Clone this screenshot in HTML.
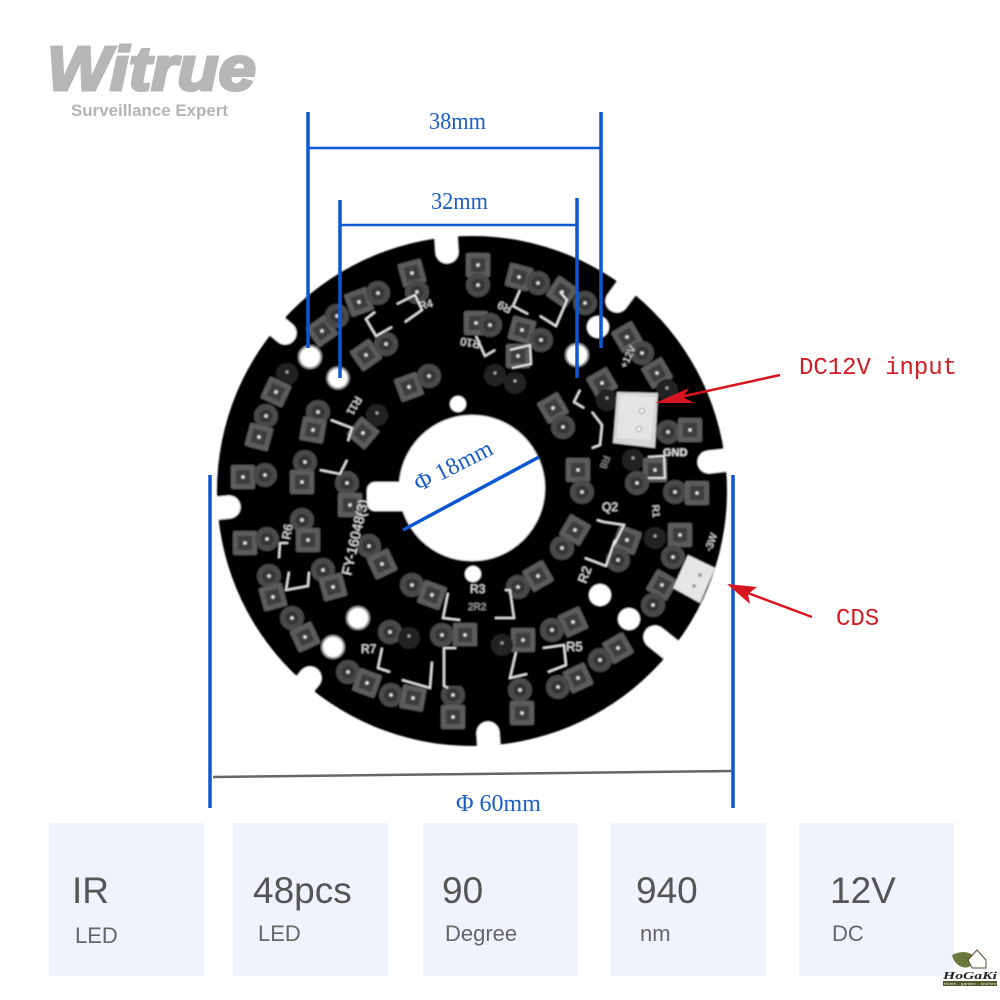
<!DOCTYPE html>
<html><head><meta charset="utf-8"><style>
html,body{margin:0;padding:0;background:#fff}
svg{display:block}
text{font-family:"Liberation Sans",sans-serif}
.d{font-family:"Liberation Serif",serif;fill:#1a5fc8;font-size:24px}
.m{font-family:"Liberation Mono",monospace;fill:#d01c24;font-size:24px}
.s{fill:#e8e8e8;font-size:11px}
.t{fill:#555;font-size:37px}
.l{fill:#666;font-size:22px}
.c{fill:none;stroke:#eee;stroke-width:1.8}
</style></head><body>
<svg width="1000" height="1000" viewBox="0 0 1000 1000" xmlns="http://www.w3.org/2000/svg">
<defs>
<filter id="b" x="-10%" y="-10%" width="120%" height="120%"><feGaussianBlur stdDeviation="0.9"/></filter>
<g id="s"><rect x="-12" y="-12" width="24" height="24" rx="2" fill="#5c5c5c"/><rect x="-7" y="-7" width="14" height="14" fill="#3e3e3e"/><circle r="1.8" fill="#ddd"/></g>
<g id="o"><circle r="12" fill="#484848"/><circle r="6.5" fill="#343434"/><circle r="1.8" fill="#ddd"/></g>
<g id="q"><circle r="11" fill="#222"/><circle cy="-2" r="1.5" fill="#aaa"/></g>
</defs>
<rect width="1000" height="1000" fill="#fff"/>
<text x="47" y="90" font-size="62" font-weight="700" font-style="italic" fill="#b6b6b6" stroke="#b6b6b6" stroke-width="3" textLength="209" lengthAdjust="spacingAndGlyphs">Witrue</text>
<text x="71" y="116" font-size="16.5" font-weight="700" fill="#b4b4b4" textLength="157" lengthAdjust="spacingAndGlyphs">Surveillance Expert</text>

<g filter="url(#b)">
<circle cx="472" cy="491" r="255" fill="#040404"/>
<g stroke="#fff" stroke-width="23" stroke-linecap="round">
<line x1="285" y1="333" x2="260" y2="312"/>
<line x1="447" y1="252" x2="445" y2="222"/>
<line x1="617" y1="301" x2="636" y2="275"/>
<line x1="709" y1="462" x2="745" y2="458"/>
<line x1="229" y1="507" x2="198" y2="510"/>
<line x1="310" y1="678" x2="290" y2="702"/>
<line x1="488" y1="733" x2="490" y2="762"/>
<line x1="655" y1="637" x2="680" y2="657"/>
</g>
<circle cx="472" cy="488" r="73" fill="#fff"/>
<rect x="367" y="482" width="50" height="29" rx="8" fill="#fff"/>
<g fill="#fff" stroke="#999" stroke-width="2">
<circle cx="310" cy="357" r="11"/><circle cx="338" cy="378" r="10.5"/>
<circle cx="598" cy="327" r="11" stroke="none"/><circle cx="577" cy="355" r="11"/>
<circle cx="358" cy="618" r="11"/><circle cx="333" cy="647" r="11"/>
<circle cx="600" cy="595" r="11" stroke="none"/><circle cx="629" cy="619" r="11" stroke="none"/>
</g>
<circle cx="458" cy="404" r="8" fill="#fff"/><circle cx="473" cy="574" r="8" fill="#fff"/>

<use href="#s" transform="translate(412 273) rotate(-15)"/><use href="#o" x="417" y="292"/>
<use href="#s" transform="translate(359 302) rotate(-20)"/><use href="#o" x="378" y="293"/>
<use href="#s" transform="translate(322 331) rotate(-35)"/><use href="#o" x="337" y="316"/>
<use href="#s" transform="translate(366 355) rotate(-35)"/><use href="#o" x="386" y="344"/>
<use href="#s" transform="translate(409 387) rotate(-20)"/><use href="#o" x="429" y="376"/>
<use href="#q" x="287" y="374"/><use href="#s" transform="translate(276 392) rotate(25)"/>
<use href="#o" x="266" y="416"/><use href="#s" transform="translate(259 437) rotate(15)"/>
<use href="#o" x="318" y="412"/><use href="#s" transform="translate(313 430) rotate(10)"/>
<use href="#s" transform="translate(363 433) rotate(40)"/><use href="#q" x="377" y="415"/>
<use href="#o" x="305" y="462"/><use href="#s" x="302" y="482"/>
<use href="#s" x="243" y="477"/><use href="#o" x="265" y="475"/>
<use href="#o" x="347" y="483"/><use href="#s" x="350" y="505"/>
<use href="#s" x="478" y="265"/><use href="#o" x="478" y="285"/>
<use href="#s" x="476" y="323"/><use href="#o" x="490" y="325"/>
<use href="#s" transform="translate(519 277) rotate(15)"/><use href="#o" x="538" y="283"/>
<use href="#s" transform="translate(562 292) rotate(35)"/><use href="#o" x="585" y="303"/>
<use href="#s" transform="translate(522 330) rotate(15)"/><use href="#o" x="541" y="340"/>
<use href="#s" x="518" y="356"/><use href="#q" x="515" y="383"/><use href="#q" x="495" y="375"/>
<use href="#s" transform="translate(627 337) rotate(-30)"/><use href="#o" x="642" y="353"/>
<use href="#s" transform="translate(657 373) rotate(-30)"/><use href="#q" x="667" y="390"/>
<use href="#s" transform="translate(602 383) rotate(-30)"/><use href="#q" x="607" y="400"/>
<use href="#s" transform="translate(553 408) rotate(-30)"/><use href="#o" x="563" y="427"/>
<use href="#o" x="668" y="432"/><use href="#s" x="690" y="430"/>
<use href="#s" x="578" y="470"/><use href="#o" x="582" y="492"/>
<use href="#q" x="633" y="460"/><use href="#s" x="655" y="470"/>
<use href="#o" x="637" y="483"/><use href="#o" x="675" y="492"/><use href="#s" x="697" y="493"/>
<use href="#s" transform="translate(245 543)"/><use href="#o" x="267" y="539"/>
<use href="#o" x="302" y="520"/><use href="#s" x="308" y="540"/>
<use href="#o" x="269" y="576"/><use href="#s" transform="translate(273 597) rotate(-15)"/>
<use href="#o" x="323" y="570"/><use href="#s" transform="translate(333 587) rotate(-15)"/>
<use href="#o" x="292" y="618"/><use href="#s" transform="translate(305 637) rotate(-25)"/>
<use href="#o" x="369" y="546"/><use href="#s" transform="translate(382 564) rotate(-25)"/>
<use href="#o" x="412" y="585"/><use href="#s" transform="translate(432 595) rotate(20)"/>
<use href="#o" x="390" y="632"/><use href="#q" x="409" y="638"/>
<use href="#o" x="442" y="635"/><use href="#s" x="465" y="635"/>
<use href="#o" x="348" y="672"/><use href="#s" transform="translate(367 683) rotate(20)"/>
<use href="#o" x="391" y="695"/><use href="#s" transform="translate(413 698) rotate(10)"/>
<use href="#o" x="453" y="695"/><use href="#s" x="453" y="717"/>
<use href="#o" x="562" y="548"/><use href="#s" transform="translate(575 530) rotate(30)"/>
<use href="#s" transform="translate(627 540) rotate(20)"/><use href="#o" x="618" y="560"/>
<use href="#q" x="655" y="538"/><use href="#s" x="680" y="535"/><use href="#o" x="673" y="557"/>
<use href="#s" transform="translate(662 585) rotate(30)"/><use href="#o" x="653" y="605"/>
<use href="#o" x="518" y="587"/><use href="#s" transform="translate(538 576) rotate(-30)"/>
<use href="#s" transform="translate(573 622) rotate(-25)"/><use href="#o" x="552" y="630"/>
<use href="#s" x="523" y="640"/><use href="#q" x="502" y="645"/>
<use href="#s" transform="translate(618 648) rotate(-30)"/><use href="#o" x="600" y="660"/>
<use href="#s" transform="translate(578 678) rotate(-25)"/><use href="#o" x="558" y="687"/>
<use href="#o" x="520" y="690"/><use href="#s" x="522" y="713"/>

<rect x="446" y="646" width="36" height="40" fill="#000"/>
<polyline class="c" points="448,688 444,686 444,648 456,648"/>

<polyline class="c" points="375,312 366,319 376,336 392,327"/>
<polyline class="c" points="397,304 415,295 422,310 405,322"/>
<polyline class="c" points="520,290 513,306 528,314"/>
<polyline class="c" points="560,292 567,300 556,326 540,316"/>
<polyline class="c" points="476,336 485,356 495,350"/>
<polyline class="c" points="510,350 530,345 531,364 512,368"/>
<polyline class="c" points="331,420 352,428 348,441"/>
<polyline class="c" points="320,470 340,474 347,460"/>
<polyline class="c" points="580,390 574,402 584,408"/>
<polyline class="c" points="592,412 602,425 600,445 592,448"/>
<polyline class="c" points="648,457 664,456 665,478 648,478"/>
<polyline class="c" points="288,543 280,543 279,558"/>
<polyline class="c" points="289,572 286,590 308,586 309,572"/>
<polyline class="c" points="382,648 378,668 390,672"/>
<polyline class="c" points="402,680 430,688 432,662"/>
<polyline class="c" points="448,593 443,618 460,620"/>
<polyline class="c" points="505,590 510,590 514,618 495,618"/>
<polyline class="c" points="597,520 604,522 624,525 614,545"/>
<polyline class="c" points="585,558 606,566 615,540"/>
<polyline class="c" points="516,652 510,678 527,674"/>
<polyline class="c" points="543,648 564,645 566,665 548,672"/>

<text class="s" transform="translate(420 310) rotate(-15)">R4</text>
<text class="s" transform="translate(497 295) rotate(205)" text-anchor="middle" x="-12" y="-4">R9</text>
<text class="s" transform="translate(481 341) rotate(190)">R10</text>
<text class="s" transform="translate(339 409) rotate(120)" x="-20" y="-8">R11</text>
<text class="s" transform="translate(351 576) rotate(-77)" style="font-size:14px">FY-16048(3)</text>
<text class="s" transform="translate(290 540) rotate(-80)" style="font-size:12px">R6</text>
<text class="s" transform="translate(361 653)" style="font-size:12px">R7</text>
<text class="s" x="470" y="593" style="font-size:12px">R3</text>
<text class="s" x="468" y="610" style="font-size:10px;fill:#aaa">2R2</text>
<text class="s" x="566" y="651" style="font-size:13px">R5</text>
<text class="s" transform="translate(586 584) rotate(-70)" style="font-size:13px">R2</text>
<text class="s" x="602" y="511" style="font-size:12px">Q2</text>
<text class="s" x="663" y="456" style="font-size:11px;font-weight:700">GND</text>
<text class="s" transform="translate(626 369) rotate(-65)" style="font-size:10px">+12V</text>
<text class="s" transform="translate(711 552) rotate(-70)" style="font-size:10px">-3W</text>
<text class="s" transform="translate(604 455) rotate(110)" style="font-size:10px;fill:#999">R8</text>
<text class="s" transform="translate(652 505) rotate(85)" style="font-size:10px">R1</text>

<polygon points="617,392 658,393 655,448 613,443" fill="#d6d6d6"/>
<polygon points="620,395 655,397 651,440 617,438" fill="#e4e4e4"/>
<circle cx="642" cy="411" r="2.5" fill="#fff" stroke="#888"/><circle cx="639" cy="429" r="2.5" fill="#fff" stroke="#888"/>
<polygon points="688,555 715,568 700,603 673,588" fill="#e6e6e6"/>
<circle cx="700" cy="575" r="2" fill="#999"/><circle cx="694" cy="586" r="2" fill="#999"/>
</g>

<g stroke="#0d57d2" fill="none">
<g stroke-width="3.5">
<line x1="308" y1="112" x2="308" y2="348"/>
<line x1="601" y1="112" x2="601" y2="348"/>
<line x1="340" y1="200" x2="340" y2="378"/>
<line x1="577" y1="198" x2="577" y2="378"/>
<line x1="210" y1="475" x2="210" y2="808"/>
<line x1="733" y1="475" x2="733" y2="808"/>
<line x1="403" y1="530" x2="539" y2="457"/>
</g>
<g stroke-width="2.5">
<line x1="308" y1="148" x2="601" y2="148"/>
<line x1="340" y1="225" x2="577" y2="225"/>
</g>
</g>
<line x1="213" y1="777" x2="732" y2="771" stroke="#666" stroke-width="2.5"/>

<text class="d" x="429" y="129" textLength="57" lengthAdjust="spacingAndGlyphs">38mm</text>
<text class="d" x="431" y="209" textLength="57" lengthAdjust="spacingAndGlyphs">32mm</text>
<text class="d" transform="translate(419 492) rotate(-27)">Φ 18mm</text>
<text class="d" x="456" y="811">Φ 60mm</text>
<text class="m" x="799" y="374" textLength="158">DC12V input</text>
<text class="m" x="836" y="625">CDS</text>

<g fill="#d8141e" stroke="#d8141e">
<line x1="780" y1="375" x2="680" y2="397" stroke-width="2.5"/>
<polygon points="655,403 689,388 683,397 694,403" stroke="none"/>
<line x1="812" y1="617" x2="745" y2="592" stroke-width="2.5"/>
<polygon points="727,584 757,587 748,594 750,604" stroke="none"/>
</g>

<g fill="#f0f3fd">
<rect x="49" y="823" width="155" height="153"/>
<rect x="233" y="823" width="155" height="153"/>
<rect x="423" y="823" width="155" height="153"/>
<rect x="611" y="823" width="155" height="153"/>
<rect x="799" y="823" width="155" height="153"/>
</g>
<text class="t" x="72" y="903">IR</text>
<text class="t" x="253" y="903">48pcs</text>
<text class="t" x="442" y="903">90</text>
<text class="t" x="636" y="903">940</text>
<text class="t" x="830" y="903">12V</text>
<text class="l" x="75" y="943">LED</text>
<text class="l" x="258" y="941">LED</text>
<text class="l" x="445" y="941">Degree</text>
<text class="l" x="640" y="941">nm</text>
<text class="l" x="832" y="941">DC</text>

<g>
<path d="M952 955 Q966 948 975 957 Q972 970 962 967 Q954 964 952 955Z" fill="#6b7a3a"/>
<path d="M968 960 L977 950 L986 960 L986 968 L972 968Z" fill="#fff" stroke="#5a4a30"/>
<text x="943" y="979" font-size="11" font-weight="700" font-style="italic" fill="#222" style="font-family:'Liberation Serif',serif" textLength="54" lengthAdjust="spacingAndGlyphs">HoGaKi</text>
<rect x="943" y="981" width="54" height="5" fill="#4e5a28"/>
<text x="944" y="985" font-size="4" fill="#fff" textLength="52">Home - garden - kitchen</text>
</g>
</svg>
</body></html>
